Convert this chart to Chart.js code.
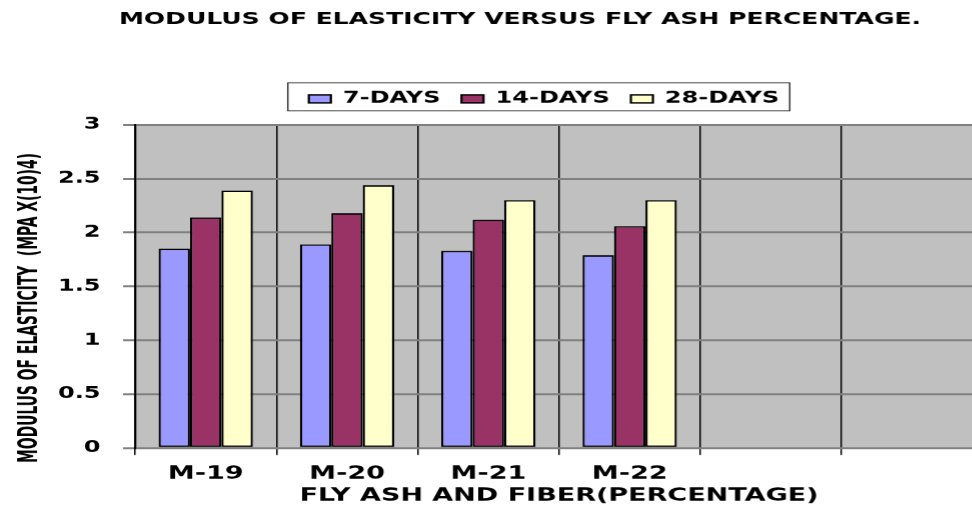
<!DOCTYPE html>
<html lang="en">
<head>
<meta charset="UTF-8">
<title>Modulus of Elasticity versus Fly Ash Percentage</title>
<script src="https://cdn.jsdelivr.net/npm/chart.js"></script>
<style>
  html, body { margin: 0; padding: 0; background: #fff; overflow: hidden; }
  #wrap { width: 972px; height: 512px; overflow: hidden; }
  /* the original picture is stretched sideways, so the canvas is too */
  #chart { transform: scaleX(1.5); transform-origin: 0 0; }
</style>
</head>
<body>
<div id="wrap"><canvas id="chart" width="655" height="512"></canvas></div>
<script>
var categories = ['M-19', 'M-20', 'M-21', 'M-22', '', ''];
var days7  = [1.85, 1.89, 1.83, 1.79, null, null];
var days14 = [2.14, 2.18, 2.12, 2.06, null, null];
var days28 = [2.39, 2.44, 2.30, 2.30, null, null];
var yTicks = [0, 0.5, 1, 1.5, 2, 2.5, 3];

var titleText = 'MODULUS OF ELASTICITY VERSUS FLY ASH PERCENTAGE.';
var xTitle = 'FLY ASH AND FIBER(PERCENTAGE)';
var yTitle = 'MODULUS OF ELASTICITY  (MPA X(10)4)';

var boldFont = function(size) {
    return { family: "'DejaVu Sans', Verdana, sans-serif", weight: 'bold', size: size };
};

var chartStyle = {
    id: 'chartStyle',
    beforeLayout: function(chart) {
        // leave a gap under the legend box like the original
        var lg = chart.legend;
        if (lg && !lg._gapPatched) {
            lg._gapPatched = true;
            var fit = lg.fit;
            lg.fit = function() {
                fit.call(this);
                this.height += 8;
            };
        }
    },
    afterLayout: function(chart) {
        // title and legend sit a bit right of the canvas centre in the original
        chart.titleBlock.left += 19;
        chart.titleBlock.right += 19;
        chart.legend.left += 35;
        chart.legend.right += 35;
    },
    beforeDraw: function(chart) {
        var a = chart.chartArea, ctx = chart.ctx;
        ctx.save();
        ctx.fillStyle = '#c0c0c0';
        ctx.fillRect(a.left, a.top, a.right - a.left, a.bottom - a.top);
        ctx.restore();
    },
    afterDraw: function(chart) {
        var ctx = chart.ctx;
        // frame around the legend
        var hb = chart.legend.legendHitBoxes;
        if (hb && hb.length) {
            var first = hb[0], last = hb[hb.length - 1];
            var cy = first.top + first.height / 2;
            ctx.save();
            ctx.strokeStyle = '#333';
            ctx.lineWidth = 1;
            ctx.strokeRect(first.left - 14, cy - 16, last.left + last.width + 7 - (first.left - 14), 28);
            ctx.restore();
        }
        // rotated y axis title, condensed like the original
        ctx.save();
        ctx.translate(20, 308);
        ctx.rotate(-Math.PI / 2);
        ctx.font = "bold 18px 'Liberation Sans Narrow', 'DejaVu Sans Condensed', 'Liberation Sans', sans-serif";
        var w = ctx.measureText(yTitle).width;
        ctx.scale(310 / w, 1);
        ctx.textAlign = 'center';
        ctx.textBaseline = 'middle';
        ctx.fillStyle = '#000';
        ctx.fillText(yTitle, 0, 0);
        ctx.restore();
    }
};

var ctx = document.getElementById('chart').getContext('2d');
var chart = new Chart(ctx, {
    type: 'bar',
    data: {
        labels: categories,
        datasets: [
            { label: '7-DAYS', data: days7, backgroundColor: '#9999ff', borderColor: '#000', borderWidth: 1.5 },
            { label: '14-DAYS', data: days14, backgroundColor: '#993366', borderColor: '#000', borderWidth: 1.5 },
            { label: '28-DAYS', data: days28, backgroundColor: '#ffffcc', borderColor: '#000', borderWidth: 1.5 }
        ]
    },
    options: {
        responsive: false,
        animation: false,
        devicePixelRatio: 1.5,
        layout: { padding: 0 },
        datasets: {
            bar: { categoryPercentage: 0.667, barPercentage: 1.0, borderSkipped: false }
        },
        plugins: {
            title: {
                display: true,
                text: titleText,
                color: '#000',
                font: boldFont(16.7),
                padding: { top: 9.4, bottom: 47.4 }
            },
            legend: {
                position: 'top',
                labels: {
                    color: '#000',
                    font: boldFont(16),
                    boxWidth: 14.7,
                    boxHeight: 8,
                    padding: 14
                }
            },
            tooltip: { enabled: false }
        },
        scales: {
            x: {
                grid: {
                    offset: true,
                    color: '#000',
                    lineWidth: 1,
                    tickColor: '#000',
                    tickLength: 7
                },
                border: { display: false },
                ticks: { color: '#000', font: boldFont(18), padding: 8, maxRotation: 0, autoSkip: false },
                title: {
                    display: true,
                    text: xTitle,
                    color: '#000',
                    font: boldFont(18),
                    padding: { top: 0, bottom: 5 }
                },
                afterFit: function(scale) { scale.height = 64; }
            },
            y: {
                min: 0,
                max: 3,
                afterBuildTicks: function(scale) {
                    scale.ticks = yTicks.map(function(v) { return { value: v }; });
                },
                grid: {
                    color: '#808080',
                    lineWidth: 2,
                    tickColor: '#808080',
                    tickLength: 8
                },
                border: { color: '#000', width: 1.5 },
                ticks: {
                    color: '#000',
                    font: boldFont(16),
                    padding: 15,
                    callback: function(value) { return String(value); }
                },
                afterFit: function(scale) { scale.width = 90; }
            }
        }
    },
    plugins: [chartStyle]
});
</script>
</body>
</html>
